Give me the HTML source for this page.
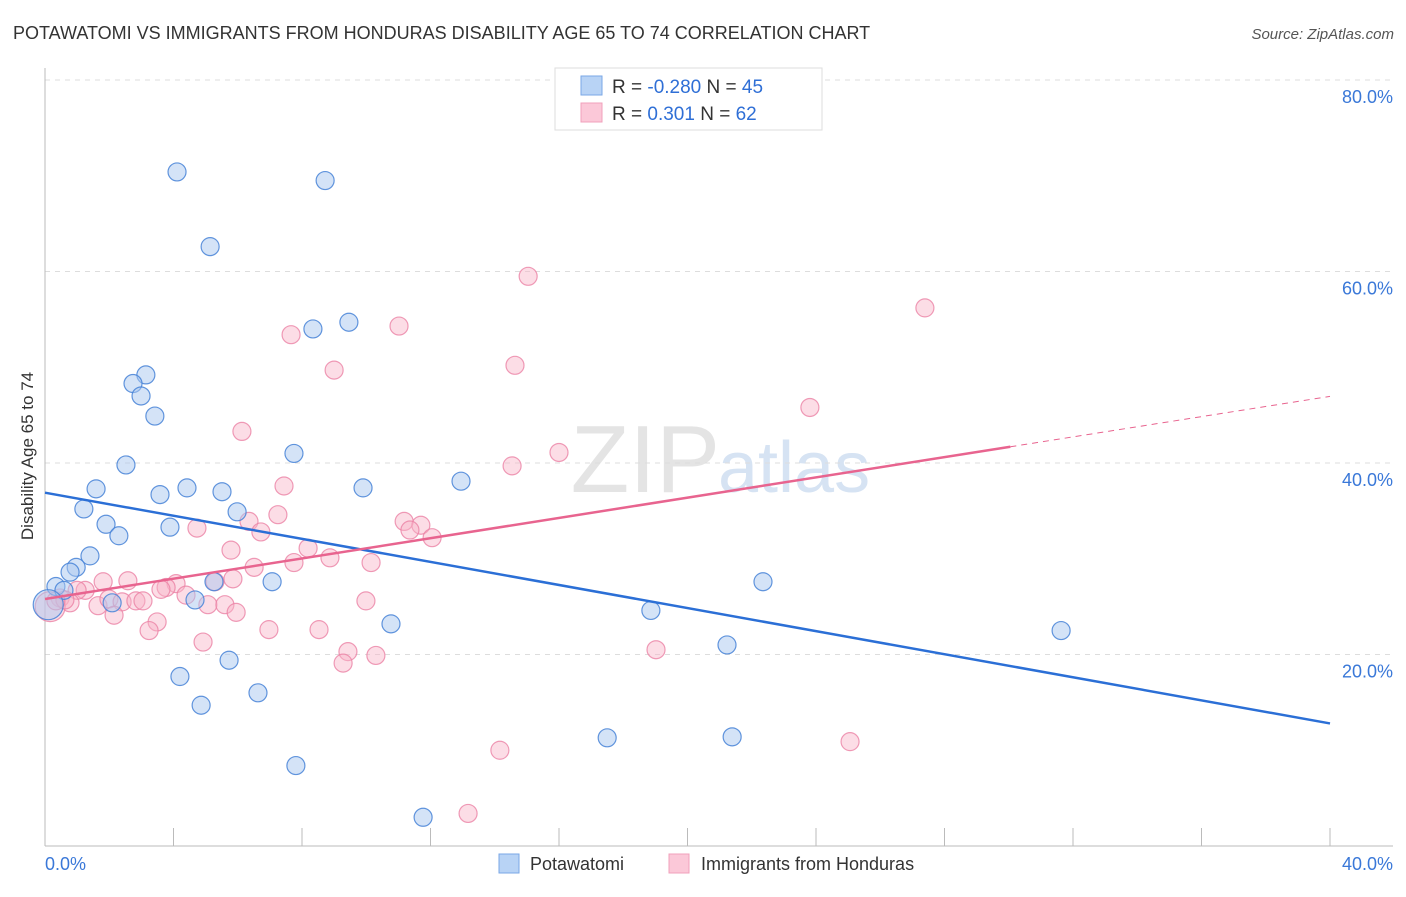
<!DOCTYPE html>
<html><head><meta charset="utf-8"><style>
body{margin:0;background:#fff;font-family:"Liberation Sans",sans-serif}
svg text{font-family:"Liberation Sans",sans-serif}
</style></head><body>
<svg id="chart" width="1406" height="892" viewBox="0 0 1406 892" xmlns="http://www.w3.org/2000/svg">
<text x="13" y="39" font-size="18" fill="#333">POTAWATOMI VS IMMIGRANTS FROM HONDURAS DISABILITY AGE 65 TO 74 CORRELATION CHART</text>
<text x="1394" y="39" font-size="15" fill="#555" text-anchor="end" font-style="italic">Source: ZipAtlas.com</text>
<text x="720" y="492" font-size="96" fill="#e4e4e4" text-anchor="end" font-family="Liberation Serif">ZIP</text>
<text x="718" y="492" font-size="72" fill="#d6e3f3">atlas</text>
<g id="grid"></g>
<g id="axes"></g>
<g id="pts"></g>
<g id="lines"></g>
<text transform="translate(33,456) rotate(-90)" font-size="17" fill="#333" text-anchor="middle">Disability Age 65 to 74</text>
<g>
<rect x="555" y="68" width="267" height="62" fill="#fff" stroke="#ddd"/>
<rect x="581" y="76" width="21" height="19" fill="#b8d3f5" stroke="#7aa7e6"/>
<rect x="581" y="103" width="21" height="19" fill="#fbc8d8" stroke="#f0a0bb"/>
<text x="612" y="93" font-size="19" fill="#333">R = <tspan fill="#2f6fd6">-0.280</tspan>   N = <tspan fill="#2f6fd6">45</tspan></text>
<text x="612" y="120" font-size="19" fill="#333">R =    <tspan fill="#2f6fd6">0.301</tspan>   N = <tspan fill="#2f6fd6">62</tspan></text>
</g>
<g>
<rect x="499" y="854" width="20" height="19" fill="#b8d3f5" stroke="#7aa7e6"/>
<text x="530" y="870" font-size="18" fill="#333">Potawatomi</text>
<rect x="669" y="854" width="20" height="19" fill="#fbc8d8" stroke="#f0a0bb"/>
<text x="701" y="870" font-size="18" fill="#333">Immigrants from Honduras</text>
</g>
</svg>
<script>
const xTicks=[0,40];
const yTicks=[20,40,60,80];
const blueX=[4.11,8.72,5.14,9.46,8.34,3.14,2.74,2.99,3.42,2.52,7.75,12.95,1.59,9.90,4.42,3.58,5.51,1.21,5.98,1.90,3.89,2.30,1.40,0.97,0.78,0.34,0.59,5.26,7.07,22.35,2.09,4.67,18.86,10.77,21.23,31.63,5.73,4.20,6.63,4.86,17.50,21.39,7.81,11.77,0.1];
const blueY=[70.4,69.5,62.6,54.7,54.0,49.2,48.3,47.0,44.9,39.8,41.0,38.1,37.3,37.4,37.4,36.7,37.0,35.2,34.9,33.6,33.3,32.4,30.3,29.1,28.6,27.1,26.7,27.6,27.6,27.6,25.4,25.7,24.6,23.2,21.0,22.5,19.4,17.7,16.0,14.7,11.3,11.4,8.4,3.0,25.2];
const pinkX=[15.04,27.39,7.66,11.02,9.00,14.63,23.81,6.13,16.00,14.54,7.44,11.18,11.70,11.36,7.25,6.35,4.73,6.72,12.05,8.19,5.79,8.87,10.15,7.75,6.51,2.58,1.81,4.08,3.77,1.25,1.00,5.29,3.61,4.39,0.47,0.78,1.65,1.99,2.40,2.83,3.05,5.07,5.60,5.95,2.15,3.49,3.24,6.97,8.53,9.99,4.92,9.43,10.30,9.28,19.02,14.16,25.06,13.17,0.16,0.62,0.34,5.85];
const pinkY=[59.5,56.2,53.4,54.3,49.7,50.2,45.8,43.3,41.1,39.7,37.6,33.9,33.5,33.0,34.6,33.9,33.2,32.8,32.2,31.1,30.9,30.1,29.6,29.6,29.1,27.7,27.6,27.4,27.0,26.7,26.7,27.6,26.8,26.2,25.9,25.4,25.1,25.8,25.5,25.6,25.6,25.2,25.2,24.4,24.1,23.4,22.5,22.6,22.6,25.6,21.3,20.3,19.9,19.1,20.5,10.0,10.9,3.4,25.0,25.7,25.6,27.9];
const blueTrend=[36.9,-0.6025];
const pinkTrend=[25.8,0.529];
const pinkSolidEnd=30.05;
const NS="http://www.w3.org/2000/svg";
const X=v=>45+v*(1285/40), Y=v=>846-v*(766/80);
function mk(tag,attrs,parent){const e=document.createElementNS(NS,tag);for(const k in attrs)e.setAttribute(k,attrs[k]);parent.appendChild(e);return e;}
const grid=document.getElementById('grid'),axes=document.getElementById('axes'),pts=document.getElementById('pts'),lines=document.getElementById('lines');
yTicks.forEach(t=>{
 const l=mk('line',{x1:45,x2:1393,y1:Y(t),y2:Y(t),stroke:'#ddd','stroke-dasharray':'5,5'},grid);
 
 
 const tx=mk('text',{x:1393,y:Y(t)+23,'font-size':18,fill:'#3a78d8','text-anchor':'end'},grid);
 tx.textContent=t.toFixed(1)+'%';
 
 
});
const ax=mk('line',{x1:45,x2:45,y1:68,y2:846,stroke:'#bbb'},axes);


const bx=mk('line',{x1:45,x2:1393,y1:846,y2:846,stroke:'#bbb'},axes);


for(let i=1;i<=10;i++){
 const t=mk('line',{x1:X(i*4),x2:X(i*4),y1:828,y2:846,stroke:'#bbb'},axes);
 
 
}
xTicks.forEach((t,i)=>{
 const tx=mk('text',{x:i?1393:45,y:870,'font-size':18,fill:'#3a78d8','text-anchor':i?'end':'start'},axes);
 tx.textContent=t.toFixed(1)+'%';
 
 
});
function dots(xs,ys,fill,stroke,name){
 xs.forEach((x,i)=>{
  const big=i===xs.length-1&&name==='potawatomi-point'||name==='honduras-point'&&i===58;
  const c=mk('circle',{cx:X(x),cy:Y(ys[i]),r:big?15:9,fill:fill,stroke:stroke,'stroke-width':1.2},pts);
  
  
 });
}
dots(pinkX,pinkY,'rgba(248,180,200,0.45)','rgba(235,130,165,0.8)','honduras-point');
dots(blueX,blueY,'rgba(170,200,240,0.5)','rgba(70,130,215,0.85)','potawatomi-point');
const bl=mk('line',{x1:X(0),y1:Y(blueTrend[0]),x2:X(40),y2:Y(blueTrend[0]+blueTrend[1]*40),stroke:'#2b6fd6','stroke-width':2.5},lines);


const pl=mk('line',{x1:X(0),y1:Y(pinkTrend[0]),x2:X(pinkSolidEnd),y2:Y(pinkTrend[0]+pinkTrend[1]*pinkSolidEnd),stroke:'#e8648f','stroke-width':2.5},lines);


const pd=mk('line',{x1:X(pinkSolidEnd),y1:Y(pinkTrend[0]+pinkTrend[1]*pinkSolidEnd),x2:X(40),y2:Y(pinkTrend[0]+pinkTrend[1]*40),stroke:'#e8648f','stroke-width':1,'stroke-dasharray':'6,5'},lines);


</script>
</body></html>
